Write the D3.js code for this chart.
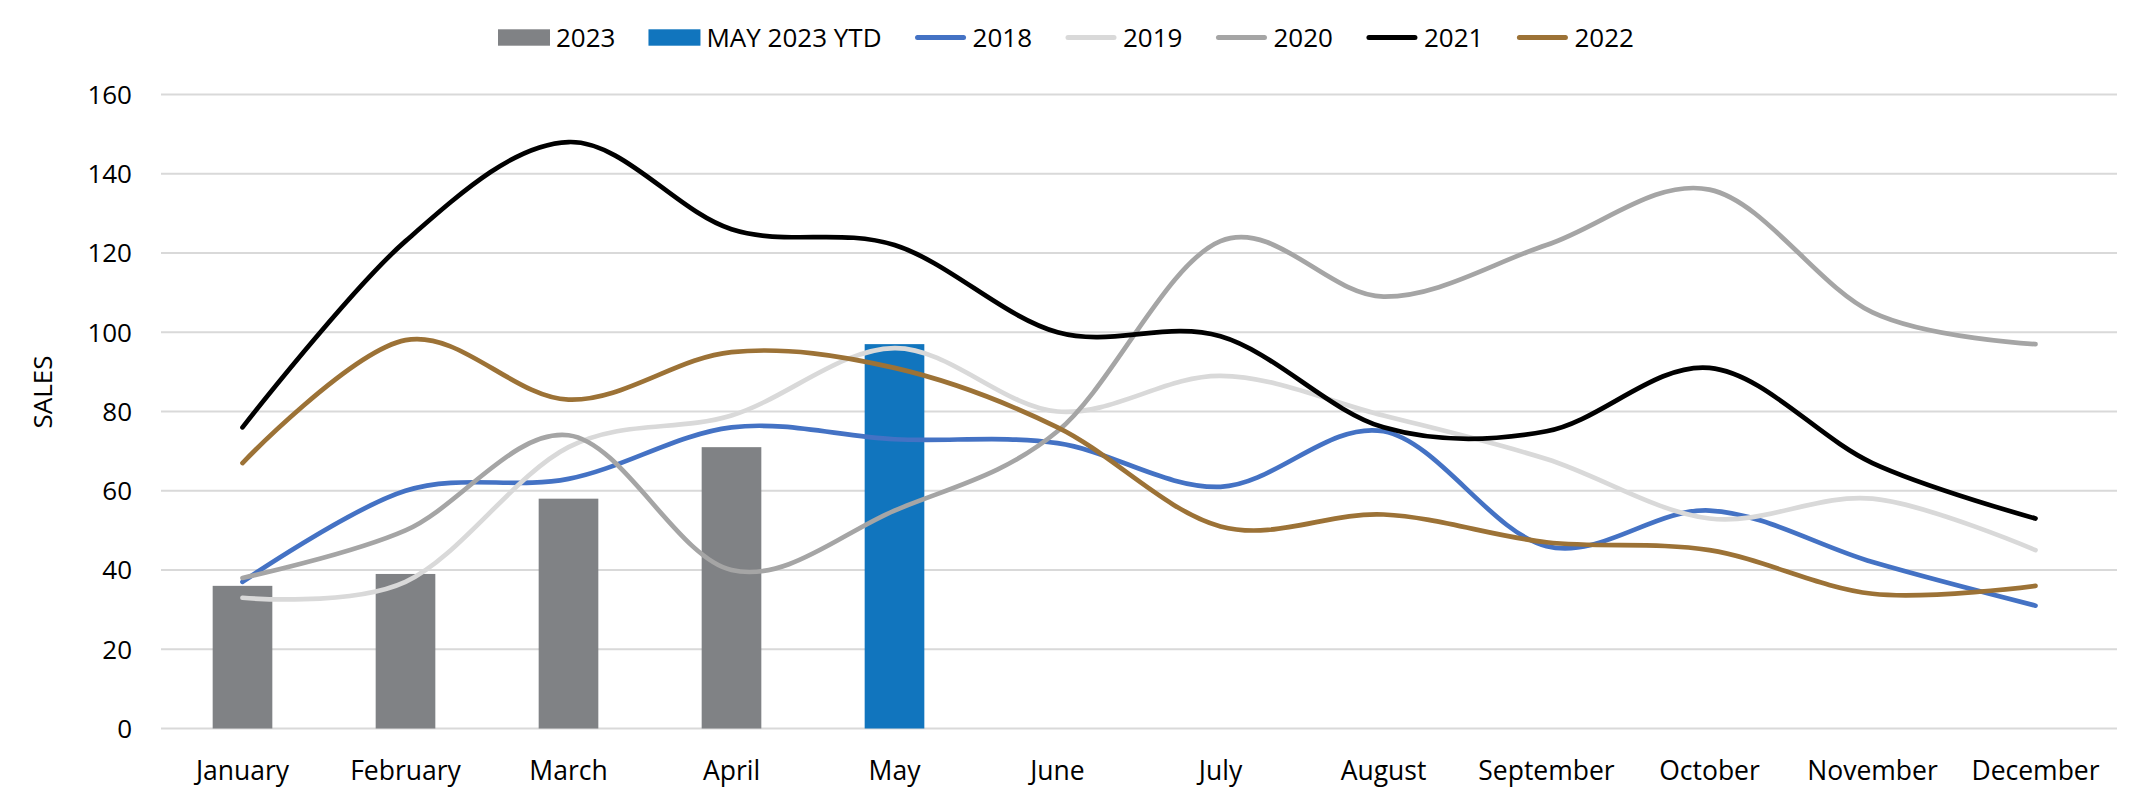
<!DOCTYPE html>
<html>
<head>
<meta charset="utf-8">
<script src="https://cdn.jsdelivr.net/npm/d3@7"></script>
<style>
  html, body { margin: 0; padding: 0; background: #fff; }
  svg { display: block; }
  text { font-family: "Open Sans", "Noto Sans", sans-serif; fill: #000; }
</style>
</head>
<body>
<svg id="chart" width="2141" height="794"></svg>
<script>
const months = ["January","February","March","April","May","June","July","August","September","October","November","December"];
const yTicks = [0, 20, 40, 60, 80, 100, 120, 140, 160];

const bars2023 = [36, 39, 58, 71, null, null, null, null, null, null, null, null];
const barsYTD  = [null, null, null, null, 97, null, null, null, null, null, null, null];

const s2018 = [37, 60, 63, 76, 73, 72, 61, 75, 46, 55, 42, 31];
const s2019 = [33, 37, 71, 79, 96, 80, 89, 79, 68, 53, 58, 45];
const s2020 = [38, 50, 74, 40, 55, 75, 123, 109, 122, 136, 105, 97];
const s2021 = [76, 123, 148, 126, 122, 100, 99, 76, 75, 91, 67, 53];
const s2022 = [67, 98, 83, 95, 91, 76, 51, 54, 47, 45, 34, 36];

const lineSeries = [
  { name: "2018", values: s2018, color: "#4472C4" },
  { name: "2019", values: s2019, color: "#D9D9D9" },
  { name: "2020", values: s2020, color: "#A5A5A5" },
  { name: "2021", values: s2021, color: "#000000" },
  { name: "2022", values: s2022, color: "#9C7236" }
];
const barSeries = [
  { name: "2023", values: bars2023, color: "#808285" },
  { name: "MAY 2023 YTD", values: barsYTD, color: "#1175BE" }
];

const svg = d3.select("#chart");
const plotL = 161, plotR = 2117, plotT = 94.5, plotB = 728.5;

const x = d3.scaleBand().domain(months).range([plotL, plotR]).paddingInner(0.634).paddingOuter(0.317);
const y = d3.scaleLinear().domain([0, 160]).range([plotB, plotT]);
const cx = m => x(m) + x.bandwidth() / 2;

// gridlines
svg.append("g").selectAll("line").data(yTicks).join("line")
  .attr("x1", plotL).attr("x2", plotR)
  .attr("y1", d => y(d)).attr("y2", d => y(d))
  .attr("stroke", "#D9D9D9").attr("stroke-width", 2);

// y tick labels
svg.append("g").selectAll("text").data(yTicks).join("text")
  .attr("x", 132).attr("y", d => y(d)).attr("dy", "0.36em")
  .attr("text-anchor", "end").attr("font-size", 26)
  .text(d => d);

// x labels
svg.append("g").selectAll("text").data(months).join("text")
  .attr("x", d => cx(d)).attr("y", 780)
  .attr("text-anchor", "middle").attr("font-size", 26.5)
  .text(d => d);

// y title
svg.append("text")
  .attr("transform", "translate(51.5,392) rotate(-90)")
  .attr("text-anchor", "middle").attr("font-size", 26)
  .text("SALES");

// bars
barSeries.forEach(s => {
  svg.append("g").selectAll("rect")
    .data(months.map((m, i) => ({ m, v: s.values[i] })).filter(d => d.v != null))
    .join("rect")
    .attr("x", d => x(d.m)).attr("width", x.bandwidth())
    .attr("y", d => y(d.v)).attr("height", d => y(0) - y(d.v))
    .attr("fill", s.color);
});

// lines
const line = d3.line()
  .x(d => cx(d.m)).y(d => y(d.v))
  .curve(d3.curveCatmullRom.alpha(0));
lineSeries.forEach(s => {
  svg.append("path")
    .datum(months.map((m, i) => ({ m, v: s.values[i] })))
    .attr("d", line)
    .attr("fill", "none").attr("stroke", s.color)
    .attr("stroke-width", 4.7).attr("stroke-linecap", "round").attr("stroke-linejoin", "round");
});

// legend
const legend = svg.append("g");
let lx = 498;
const ly = 37.5;
const items = [
  ...barSeries.map(s => ({ ...s, type: "bar" })),
  ...lineSeries.map(s => ({ ...s, type: "line" }))
];
items.forEach(it => {
  if (it.type === "bar") {
    legend.append("rect").attr("x", lx).attr("y", ly - 8.2).attr("width", 52).attr("height", 16.4).attr("fill", it.color);
  } else {
    legend.append("line").attr("x1", lx + 3).attr("x2", lx + 49).attr("y1", ly).attr("y2", ly)
      .attr("stroke", it.color).attr("stroke-width", 5).attr("stroke-linecap", "round");
  }
  const t = legend.append("text").attr("x", lx + 58).attr("y", ly).attr("dy", "0.36em")
    .attr("font-size", 26).text(it.name);
  lx += 58 + t.node().getComputedTextLength() + 33;
});
</script>
</body>
</html>
